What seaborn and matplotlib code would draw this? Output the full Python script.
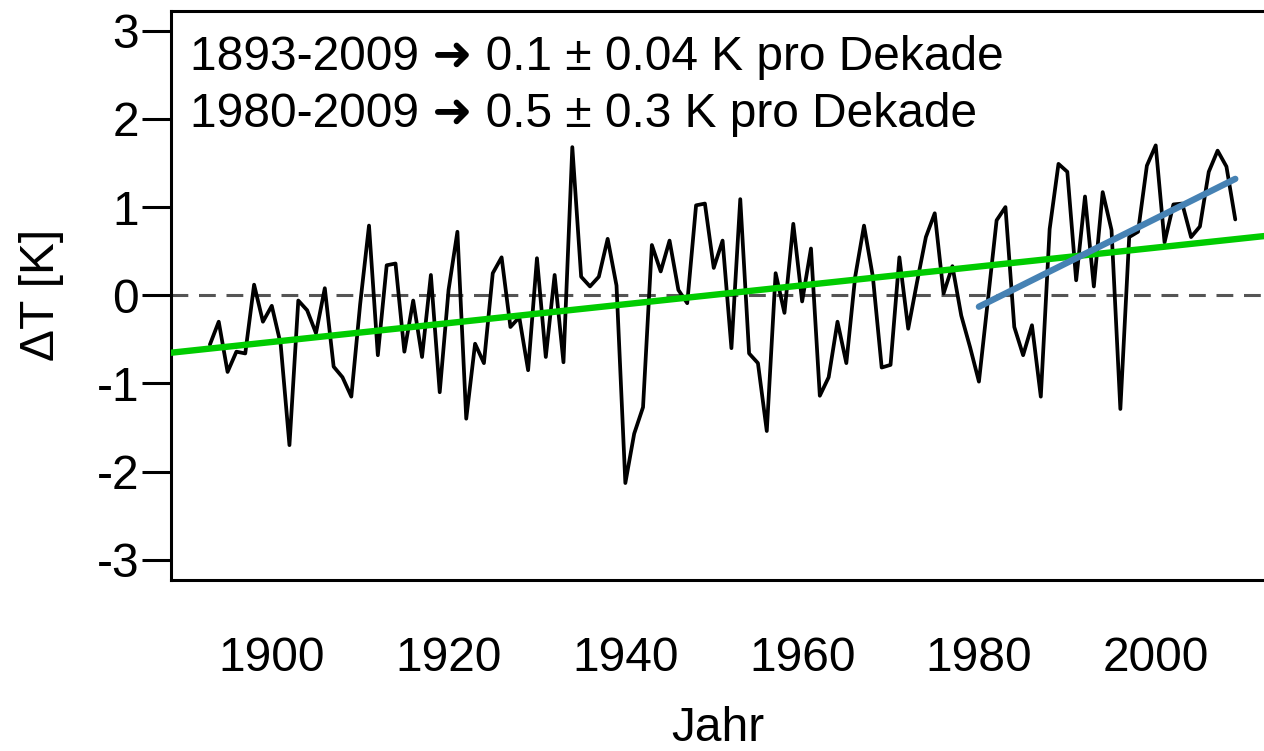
import numpy as np
import pandas as pd
import seaborn as sns
import matplotlib
matplotlib.use("Agg")
import matplotlib.pyplot as plt

# ---------------- data ----------------
years = list(range(1893, 2010))
delta_t = [
    -0.56, -0.30, -0.87, -0.64, -0.66, 0.12, -0.30,            # 1893-1899
    -0.12, -0.55, -1.70, -0.06, -0.17, -0.43, 0.08, -0.81, -0.93, -1.15,  # 1900-1909
    -0.10, 0.79, -0.68, 0.34, 0.36, -0.64, -0.06, -0.70, 0.23, -1.10,     # 1910-1919
    0.06, 0.72, -1.40, -0.55, -0.77, 0.25, 0.43, -0.36, -0.25, -0.85,     # 1920-1929
    0.42, -0.70, 0.23, -0.76, 1.68, 0.21, 0.10, 0.21, 0.64, 0.11,         # 1930-1939
    -2.13, -1.57, -1.27, 0.57, 0.27, 0.62, 0.06, -0.09, 1.02, 1.04,       # 1940-1949
    0.31, 0.62, -0.60, 1.09, -0.66, -0.77, -1.54, 0.25, -0.20, 0.81,      # 1950-1959
    -0.07, 0.53, -1.14, -0.93, -0.30, -0.77, 0.21, 0.79, 0.21, -0.82,     # 1960-1969
    -0.79, 0.43, -0.38, 0.15, 0.66, 0.93, 0.02, 0.33, -0.23, -0.59,       # 1970-1979
    -0.98, -0.07, 0.85, 1.00, -0.36, -0.68, -0.34, -1.15, 0.75, 1.49,     # 1980-1989
    1.40, 0.17, 1.12, 0.10, 1.17, 0.74, -1.29, 0.66, 0.72, 1.47,          # 1990-1999
    1.70, 0.60, 1.03, 1.04, 0.66, 0.78, 1.40, 1.64, 1.46, 0.86,           # 2000-2009
]

# long-term trend (1893-2009): 0.1 K per decade, drawn across the whole axis
long_trend_year = 1950
long_trend_value = 0.005
long_trend_slope = 0.0107   # K per year

# short-term trend (1980-2009)
short_trend_years = [1980, 2009]
short_trend_values = [-0.13, 1.32]

x_ticks = [1900, 1920, 1940, 1960, 1980, 2000]
y_ticks = [-3, -2, -1, 0, 1, 2, 3]
y_tick_labels = ["-3", "-2", "-1", "0", "1", "2", "3"]
annotations = [
    "1893-2009 \u279c 0.1 \u00b1 0.04 K pro Dekade",
    "1980-2009 \u279c 0.5 \u00b1 0.3 K pro Dekade",
]
x_label = "Jahr"
y_label = "\u0394T [K]"

# ---------------- plot ----------------
sns.set_theme(style="white")
plt.rcParams["font.family"] = ["Liberation Sans", "DejaVu Sans"]

FS = 34.5

df = pd.DataFrame({"Jahr": years, "dT": delta_t})
df_short = pd.DataFrame({"Jahr": short_trend_years, "dT": short_trend_values})

fig = plt.figure(figsize=(12.64, 7.51), dpi=100)
ax = fig.add_axes([171 / 1264, (751 - 580) / 751, (1264 - 171) / 1264, (580 - 10.5) / 751])

ax.axhline(0, color="#555555", lw=2.2, ls=(0, (5.5, 3.5)), zorder=1)
sns.lineplot(data=df, x="Jahr", y="dT", ax=ax, color="black", lw=2.7, zorder=3)
ax.axline((long_trend_year, long_trend_value), slope=long_trend_slope,
          color="#00CC00", lw=4.6, zorder=4)
sns.lineplot(data=df_short, x="Jahr", y="dT", ax=ax, color="#4682B4", lw=4.6,
             zorder=5, solid_capstyle="round")

ax.set_xlim(1888.6, 2012.25)
ax.set_ylim(-3.23, 3.23)

ax.set_xticks(x_ticks)
ax.set_xticklabels([str(t) for t in x_ticks])
ax.set_yticks(y_ticks)
ax.set_yticklabels(y_tick_labels)
ax.tick_params(axis="y", which="major", direction="out", length=21, width=2.2,
               color="black", labelsize=FS, labelcolor="black", left=True, pad=2)
ax.tick_params(axis="x", which="major", length=0, labelsize=FS,
               labelcolor="black", bottom=True, pad=40)

for side in ["left", "bottom", "top"]:
    ax.spines[side].set_visible(True)
    ax.spines[side].set_color("black")
    ax.spines[side].set_linewidth(2.2)
ax.spines["right"].set_visible(False)

ax.set_xlabel(x_label, fontsize=FS, color="black")
ax.set_ylabel(y_label, fontsize=FS, color="black")
ax.xaxis.set_label_coords(0.5, -0.222)
ax.yaxis.set_label_coords(-0.098, 0.5)

ax.text(1890.75, 2.551, annotations[0], fontsize=FS, color="black", va="baseline", ha="left")
ax.text(1890.75, 1.905, annotations[1], fontsize=FS, color="black", va="baseline", ha="left")

fig.savefig("out.png", dpi=100)
